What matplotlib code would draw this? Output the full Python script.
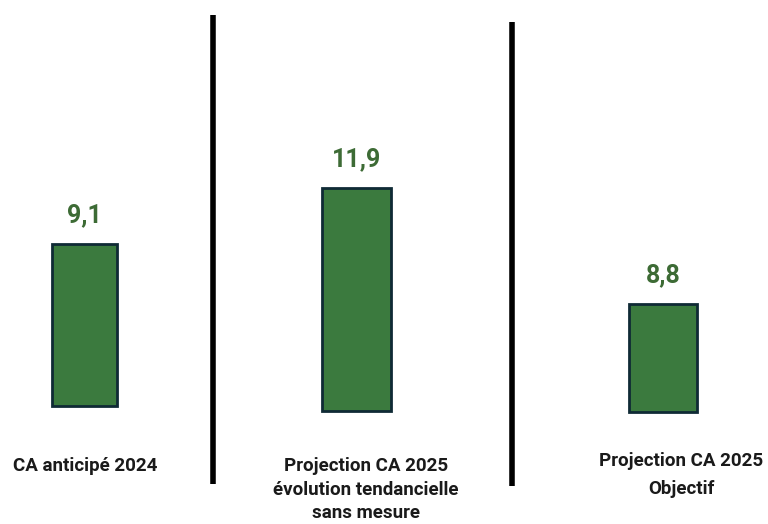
import matplotlib
matplotlib.use("Agg")
import matplotlib.pyplot as plt
from matplotlib.lines import Line2D

# chiffre d'affaires (M€)
categories = [
    "CA anticipé 2024",
    "Projection CA 2025\névolution tendancielle\nsans mesure",
    "Projection CA 2025\nObjectif",
]
values = [9.1, 11.9, 8.8]

# layout in pixels (figure is 768 x 524)
W, H = 768, 524
bar_left = [52, 322, 629]
bar_right = [117, 391, 697]
bar_base = [406, 411, 412]
bar_top = [244, 188, 304]
label_x = [85, 366, 681]
label_top = [457, 457, 452]
label_spacing = [1.4, 1.4, 1.75]
separators = [(213, 15, 484), (512, 22, 486)]

bar_color = "#3b7a3e"
edge_color = "#0f2a35"
value_color = "#3d6b35"
font = ["Roboto", "DejaVu Sans"]

fig = plt.figure(figsize=(W / 100, H / 100), dpi=100)
fig.patch.set_facecolor("white")

for i, (cat, val) in enumerate(zip(categories, values)):
    left = bar_left[i] / W
    width = (bar_right[i] - bar_left[i]) / W
    bottom = 1 - bar_base[i] / H
    ax = fig.add_axes([left, bottom, width, bar_base[i] / H])
    # scale so the value lands on the bar top
    ymax = val * bar_base[i] / (bar_base[i] - bar_top[i])
    bars = ax.bar([0], [val], width=1.0, color=bar_color, edgecolor=edge_color,
                  linewidth=2.0)
    for b in bars:
        b.set_clip_on(False)
    ax.set_xlim(-0.5, 0.5)
    ax.set_ylim(0, ymax)
    ax.axis("off")
    ax.annotate(f"{val:.1f}".replace(".", ","), xy=(0, val),
                xytext=(0, 21), textcoords="offset points",
                ha="center", va="center", fontsize=18, fontweight="bold",
                color=value_color, family=font, annotation_clip=False)
    fig.text(label_x[i] / W, 1 - label_top[i] / H, cat, ha="center", va="top",
             fontsize=13.5, fontweight="bold", color="#1a1a1a",
             family=font, linespacing=label_spacing[i])

for x, y0, y1 in separators:
    fig.add_artist(Line2D([x / W, x / W], [1 - y0 / H, 1 - y1 / H],
                          color="black", linewidth=4, solid_capstyle="butt"))

fig.savefig("out.png", dpi=100, facecolor="white")
